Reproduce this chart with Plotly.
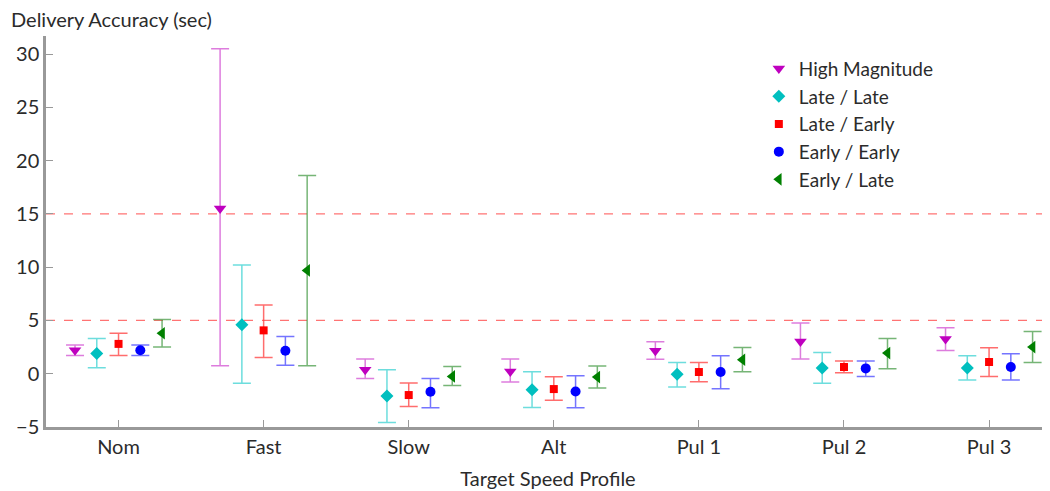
import plotly.graph_objects as go

categories = ["Nom", "Fast", "Slow", "Alt", "Pul 1", "Pul 2", "Pul 3"]
series_names = ["High Magnitude", "Late / Late", "Late / Early", "Early / Early", "Early / Late"]

# marker values, upper bound, lower bound per series
high_mag = [2.2, 15.5, 0.38, 0.22, 2.16, 3.03, 3.26]
high_mag_hi = [2.7, 30.5, 1.38, 1.38, 3.0, 4.76, 4.32]
high_mag_lo = [1.7, 0.75, -0.44, -0.78, 1.35, 1.38, 2.19]

late_late = [1.9, 4.6, -2.1, -1.5, -0.06, 0.53, 0.53]
late_late_hi = [3.3, 10.2, 0.38, 0.19, 1.06, 2.0, 1.69]
late_late_lo = [0.55, -0.9, -4.57, -3.16, -1.25, -0.9, -0.6]

late_early = [2.8, 4.07, -2.0, -1.44, 0.16, 0.63, 1.1]
late_early_hi = [3.8, 6.45, -0.88, -0.28, 1.06, 1.19, 2.44]
late_early_lo = [1.7, 1.53, -3.07, -2.5, -0.75, 0.09, -0.25]

early_early = [2.2, 2.16, -1.69, -1.66, 0.16, 0.5, 0.63]
early_early_hi = [2.7, 3.5, -0.44, -0.19, 1.69, 1.19, 1.88]
early_early_lo = [1.7, 0.8, -3.2, -3.2, -1.4, -0.25, -0.6]

early_late = [3.8, 9.7, -0.25, -0.31, 1.31, 1.94, 2.5]
early_late_hi = [5.1, 18.6, 0.69, 0.72, 2.47, 3.31, 3.97]
early_late_lo = [2.5, 0.75, -1.1, -1.34, 0.19, 0.47, 1.06]

threshold_lines = [5, 15]

series = [
    (high_mag, high_mag_hi, high_mag_lo),
    (late_late, late_late_hi, late_late_lo),
    (late_early, late_early_hi, late_early_lo),
    (early_early, early_early_hi, early_early_lo),
    (early_late, early_late_hi, early_late_lo),
]
offsets = [-0.3, -0.15, 0.0, 0.15, 0.3]
marker_colors = ["#bf00bf", "#00bfbf", "#ff0000", "#0000ff", "#008000"]
bar_colors = ["rgba(210,80,210,0.75)", "rgba(60,210,210,0.75)", "rgba(255,60,60,0.75)",
              "rgba(70,70,255,0.75)", "rgba(60,150,60,0.7)"]
symbols = ["triangle-down", "diamond", "square", "circle", "triangle-left"]
sizes = [11, 10, 8, 10, 11]

FONT = "Lato, Noto Sans, sans-serif"
TXT = "#2b2b2b"

fig = go.Figure()
for i, (name, (vals, hi, lo)) in enumerate(zip(series_names, series)):
    xs = [k + offsets[i] for k in range(len(categories))]
    fig.add_trace(go.Scatter(
        x=xs, y=vals, mode="markers", name=name,
        marker=dict(symbol=symbols[i], color=marker_colors[i], size=sizes[i]),
        error_y=dict(type="data", symmetric=False,
                     array=[h - v for h, v in zip(hi, vals)],
                     arrayminus=[v - l for v, l in zip(vals, lo)],
                     color=bar_colors[i], thickness=1.5, width=9),
    ))

for yv in threshold_lines:
    fig.add_hline(y=yv, line=dict(color="rgba(255,80,80,0.8)", width=1.3, dash="dash"), layer="below")

fig.update_layout(
    width=1050, height=491,
    margin=dict(l=35, r=8, t=28, b=72),
    paper_bgcolor="white", plot_bgcolor="white",
    font=dict(family=FONT, size=20, color=TXT),
    showlegend=True,
    legend=dict(x=0.71, y=0.965, xanchor="left", yanchor="top", bgcolor="rgba(0,0,0,0)",
                font=dict(family=FONT, size=19, color=TXT), tracegroupgap=0, itemwidth=30),
    title=dict(text="Delivery Accuracy (sec)", xref="container", yref="container",
               x=0, y=0.975, xanchor="left", yanchor="middle", pad=dict(l=3),
               font=dict(family=FONT, size=20, color=TXT)),
)
fig.update_xaxes(
    range=[-0.5, 6.42], tickvals=list(range(len(categories))), ticktext=categories,
    showgrid=False, zeroline=False, showline=True, linecolor="#999999", linewidth=2.5,
    ticks="inside", ticklen=7, tickcolor="#999999",
    title=dict(text="Target Speed Profile", font=dict(family=FONT, size=20, color=TXT), standoff=16),
)
fig.update_yaxes(
    range=[-5, 31.7], tickvals=[-5, 0, 5, 10, 15, 20, 25, 30],
    showgrid=False, zeroline=False, showline=True, linecolor="#999999", linewidth=2.5,
    ticks="inside", ticklen=7, tickcolor="#999999",
)

fig.write_html("out.html")
